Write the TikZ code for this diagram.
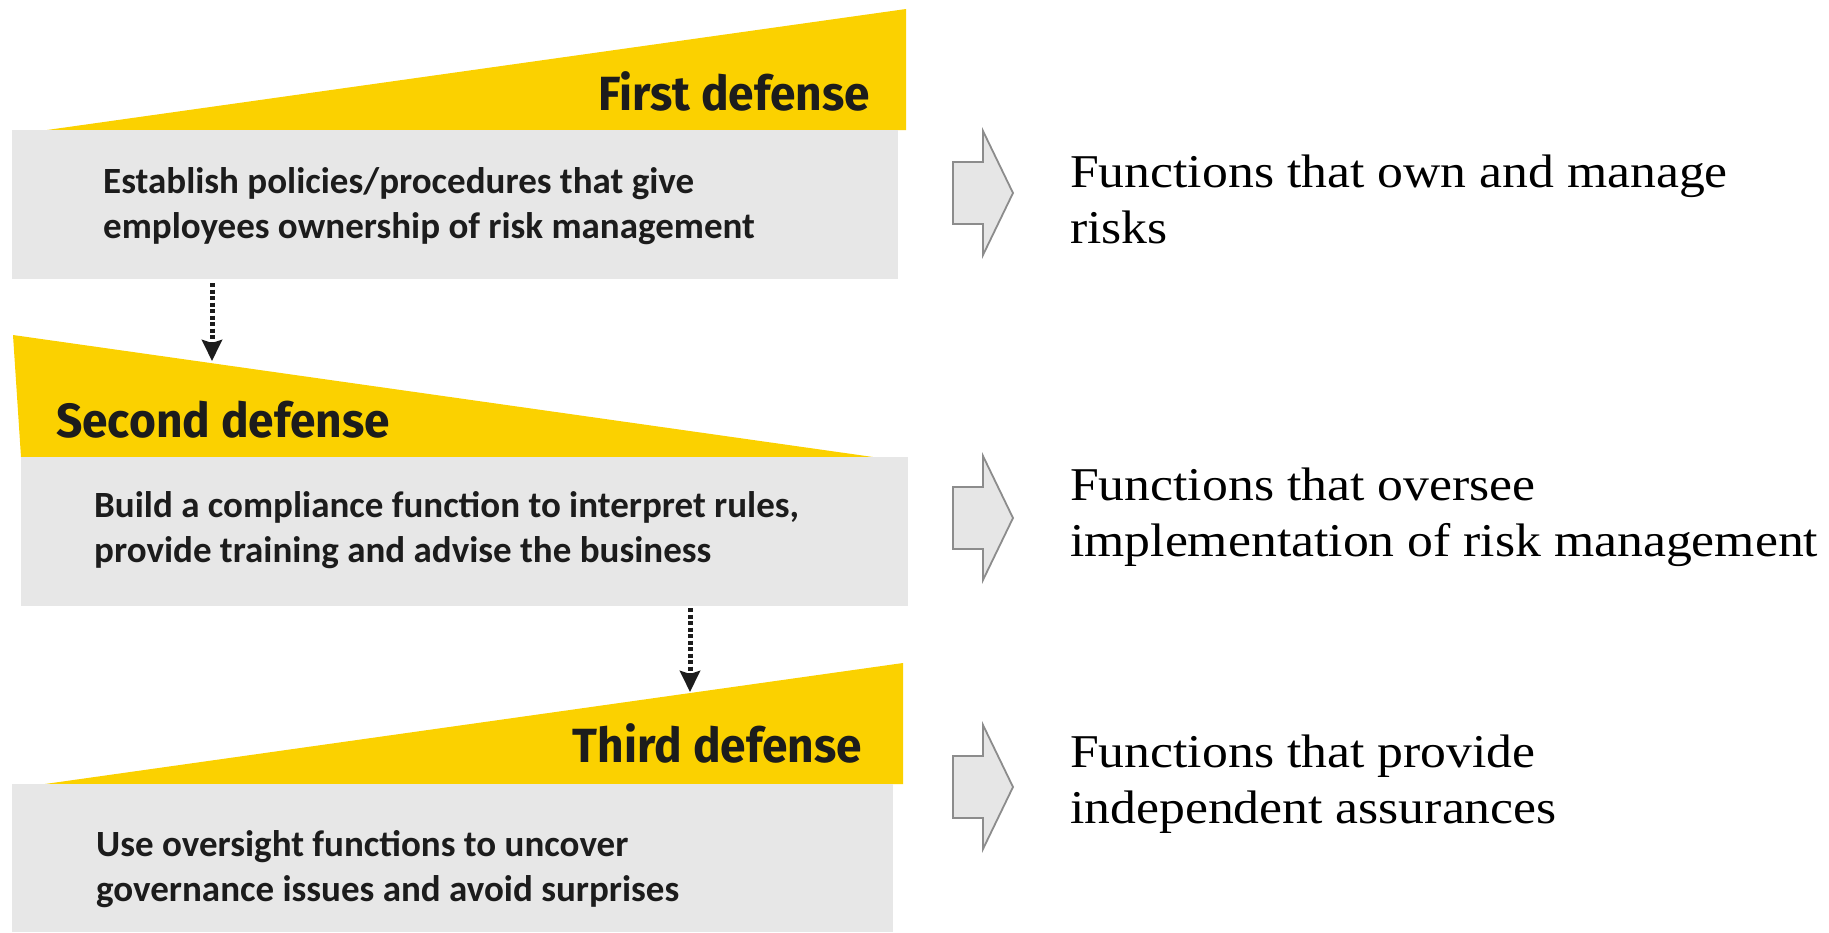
\documentclass[tikz,border=0pt]{standalone}
\usepackage{fontspec}
\usetikzlibrary{arrows.meta}
\newfontfamily\headfont[FakeStretch=0.96]{Fira Sans}
\newfontfamily\bodyfont{Carlito}
\newfontfamily\rightfont[FakeStretch=1.1]{Liberation Serif}
\definecolor{eyyellow}{RGB}{251,209,0}
\definecolor{boxgray}{RGB}{231,231,231}
\definecolor{arrowfill}{RGB}{230,230,230}
\definecolor{arrowline}{RGB}{140,140,140}
\definecolor{inktext}{RGB}{28,28,28}
\tikzset{
  wedge/.style={fill=eyyellow, draw=none},
  graybox/.style={fill=boxgray, draw=none, inner sep=0pt, anchor=north west},
  headtext/.style={font=\headfont\bfseries\fontsize{48}{52}\selectfont, text=inktext, inner sep=0pt},
  bodytext/.style={font=\bodyfont\bfseries\fontsize{37}{45}\selectfont, text=inktext, inner sep=0pt, align=left, anchor=base west},
  righttext/.style={font=\rightfont\fontsize{47}{56}\selectfont, text=black, inner sep=0pt, align=left, anchor=base west},
  dotarrow/.style={draw=inktext, line width=5pt, dash pattern=on 4pt off 2.5pt, -{Stealth[length=21pt,width=20pt,inset=3pt]}},
  blockarrow/.style={fill=arrowfill, draw=arrowline, line width=1.8pt, line join=miter}
}
\begin{document}
\begin{tikzpicture}[x=1pt,y=-1pt]
\useasboundingbox (0,0) rectangle (1829,932);
% first defense
\fill[wedge] (47,130) -- (906,9) -- (906,130) -- cycle;
\node[graybox, minimum width=886pt, minimum height=149pt] (box1) at (12,130) {};
\node[headtext, anchor=base east] (h1) at (870,110) {First defense};
\node[bodytext] (t1) at (103,238) {Establish policies/procedures that give\\employees ownership of risk management};
% second defense
\fill[wedge] (13,335) -- (21,457) -- (873,457) -- cycle;
\node[graybox, minimum width=887pt, minimum height=149pt] (box2) at (21,457) {};
\node[headtext, anchor=base west] (h2) at (56,437) {Second defense};
\node[bodytext] (t2) at (94,562) {Build a compliance function to interpret rules,\\provide training and advise the business};
% third defense
\fill[wedge] (45,784) -- (903,663) -- (903,784) -- cycle;
\node[graybox, minimum width=881pt, minimum height=148pt] (box3) at (12,784) {};
\node[headtext, anchor=base east] (h3) at (862,762) {Third defense};
\node[bodytext] (t3) at (96,901) {Use oversight functions to uncover\\governance issues and avoid surprises};
% dotted connectors
\coordinate (d1s) at (212,283);
\coordinate (d1e) at (212,361);
\draw[dotarrow] (d1s) -- (d1e);
\coordinate (d2s) at (690,608);
\coordinate (d2e) at (690,692);
\draw[dotarrow] (d2s) -- (d2e);
% block arrows
\foreach \cy/\nm in {193/b1, 518/b2, 787/b3}{
  \coordinate (\nm) at (983,\cy);
  \draw[blockarrow, shift={(\nm)}] (-30,-31) -- (0,-31) -- (0,-62) -- (30,0) -- (0,62) -- (0,31) -- (-30,31) -- cycle;
}
% right texts
\node[righttext] (r1) at (1070,243) {Functions that own and manage\\risks};
\node[righttext] (r2) at (1070,556) {Functions that oversee\\implementation of risk management};
\node[righttext] (r3) at (1070,823) {Functions that provide\\independent assurances};
\end{tikzpicture}
\end{document}
